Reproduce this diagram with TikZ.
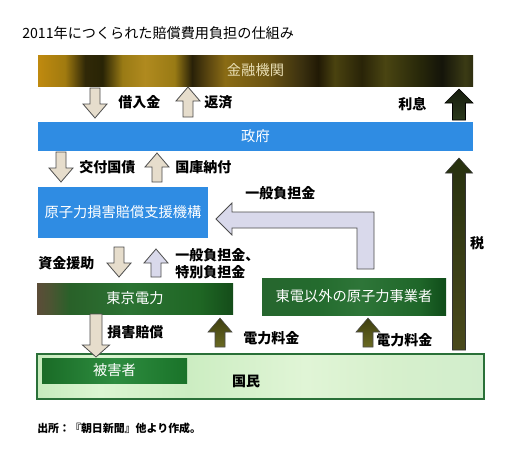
\documentclass[tikz,border=0pt]{standalone}
\usepackage{fontspec}
\setmainfont{Noto Sans CJK JP}
\pgfdeclarehorizontalshading{finance}{100bp}{rgb(0bp)=(0.75,0.54,0.06); rgb(25bp)=(0.75,0.54,0.06); rgb(28.1bp)=(0.63,0.48,0.06); rgb(30.4bp)=(0.19,0.16,0.03); rgb(32.4bp)=(0.16,0.14,0.02); rgb(34.7bp)=(0.60,0.48,0.08); rgb(37.3bp)=(0.69,0.54,0.12); rgb(40.7bp)=(0.60,0.48,0.08); rgb(42.7bp)=(0.16,0.13,0.03); rgb(44.5bp)=(0.35,0.27,0.06); rgb(46.5bp)=(0.54,0.42,0.08); rgb(51.4bp)=(0.42,0.33,0.07); rgb(55.3bp)=(0.23,0.19,0.06); rgb(57.2bp)=(0.13,0.10,0.02); rgb(59.1bp)=(0.29,0.26,0.06); rgb(62.2bp)=(0.16,0.14,0.03); rgb(64.9bp)=(0.29,0.27,0.07); rgb(68.7bp)=(0.16,0.16,0.04); rgb(71.4bp)=(0.08,0.08,0.04); rgb(74.1bp)=(0.23,0.23,0.08); rgb(75bp)=(0.18,0.18,0.06); rgb(100bp)=(0.18,0.18,0.06)}
\pgfdeclarehorizontalshading{tepco}{100bp}{rgb(0bp)=(0.36,0.30,0.22); rgb(25bp)=(0.36,0.30,0.22); rgb(28.3bp)=(0.30,0.33,0.20); rgb(33.4bp)=(0.16,0.38,0.16); rgb(48.7bp)=(0.17,0.45,0.20); rgb(66.6bp)=(0.12,0.40,0.14); rgb(75bp)=(0.08,0.30,0.10); rgb(100bp)=(0.08,0.30,0.10)}
\pgfdeclarehorizontalshading{others}{100bp}{rgb(0bp)=(0.15,0.40,0.18); rgb(25bp)=(0.15,0.40,0.18); rgb(40bp)=(0.14,0.42,0.18); rgb(52bp)=(0.18,0.46,0.22); rgb(68bp)=(0.12,0.40,0.16); rgb(75bp)=(0.06,0.30,0.10); rgb(100bp)=(0.06,0.30,0.10)}
\pgfdeclarehorizontalshading{victim}{100bp}{rgb(0bp)=(0.10,0.42,0.15); rgb(25bp)=(0.10,0.42,0.15); rgb(50bp)=(0.18,0.55,0.25); rgb(75bp)=(0.10,0.45,0.16); rgb(100bp)=(0.10,0.45,0.16)}
\pgfdeclarehorizontalshading{nation}{100bp}{rgb(0bp)=(0.78,0.92,0.74); rgb(25bp)=(0.78,0.92,0.74); rgb(32bp)=(0.86,0.96,0.82); rgb(42bp)=(0.80,0.93,0.76); rgb(55bp)=(0.88,0.96,0.84); rgb(65bp)=(0.84,0.94,0.80); rgb(75bp)=(0.82,0.93,0.80); rgb(100bp)=(0.82,0.93,0.80)}
\definecolor{govblue}{HTML}{2F8CE3}
\definecolor{arrbeige}{HTML}{E6DDCC}
\definecolor{arrlav}{HTML}{D9D9EB}
\definecolor{nationedge}{HTML}{2A7038}
\definecolor{darktop}{HTML}{161C0E}
\definecolor{darkbot}{HTML}{2C3A1C}
\definecolor{taxtop}{HTML}{27310F}
\definecolor{taxbot}{HTML}{4A4A1C}
\definecolor{olivetop}{HTML}{3E3E10}
\definecolor{olivebot}{HTML}{6A6A22}
\newcommand\uparr[7]{\path[#1] ({#2-#5},{#4}) -- ({#2-#5},{#3+#7}) -- ({#2-#6},{#3+#7}) -- ({#2},{#3}) -- ({#2+#6},{#3+#7}) -- ({#2+#5},{#3+#7}) -- ({#2+#5},{#4}) -- cycle;}
\newcommand\dnarr[7]{\path[#1] ({#2-#5},{#4}) -- ({#2-#5},{#3-#7}) -- ({#2-#6},{#3-#7}) -- ({#2},{#3}) -- ({#2+#6},{#3-#7}) -- ({#2+#5},{#3-#7}) -- ({#2+#5},{#4}) -- cycle;}
\tikzset{
  box/.style={inner sep=0pt, text=white, font=\fontsize{10.7}{12}\selectfont},
  lbl/.style={inner sep=0pt, anchor=west, font=\fontsize{10.5}{12}\selectfont\bfseries},
  beigearr/.style={fill=arrbeige, draw=black!70, line width=0.6pt},
  lavarr/.style={fill=arrlav, draw=black!70, line width=0.6pt},
  darkarr/.style={top color=darktop, bottom color=darkbot, draw=black, line width=0.4pt},
  taxarr/.style={top color=taxtop, bottom color=taxbot, draw=black!80, line width=0.4pt},
  olivearr/.style={top color=olivetop, bottom color=olivebot, draw=black!70, line width=0.4pt}
}
\begin{document}
\begin{tikzpicture}[x=0.75pt,y=-0.75pt]
\useasboundingbox (0,0) rectangle (527,461);
\fill[white] (0,0) rectangle (527,461);
% title
\node (title) [inner sep=0pt, anchor=west, font=\fontsize{10.6}{12}\selectfont] at (22,33) {2011年につくられた賠償費用負担の仕組み};
% boxes
\node (fin) [box, shade, shading=finance, minimum width=326.25pt, minimum height=23.25pt, text={rgb,255:red,232;green,222;blue,180}] at (255.5,70.5) {金融機関};
\node (gov) [box, fill=govblue, minimum width=326.25pt, minimum height=21.75pt] at (255.5,136.5) {政府};
\node (ndf) [box, fill=govblue, minimum width=127.5pt, minimum height=38.25pt] at (123,212.5) {原子力損害賠償支援機構};
\node (tepco) [box, shade, shading=tepco, minimum width=147pt, minimum height=23.25pt] at (135,298.5) {東京電力};
\node (oth) [box, shade, shading=others, minimum width=138pt, minimum height=27.75pt] at (354,296.5) {東電以外の原子力事業者};
\node (nat) [shade, shading=nation, draw=nationedge, line width=1.1pt, minimum width=335.25pt, minimum height=33.75pt, inner sep=0pt] at (260.5,376.5) {};
\node (natl) [inner sep=0pt, font=\fontsize{10.5}{12}\selectfont\bfseries] at (246,381) {国民};
\node (vic) [box, shade, shading=victim, minimum width=108.75pt, minimum height=18.75pt] at (114.5,370.5) {被害者};
% arrows row 1
\dnarr{beigearr}{95}{118}{88}{5}{12}{14}
\uparr{beigearr}{188}{87}{117}{5}{12}{14}
\uparr{darkarr}{459}{89}{120}{6.5}{14}{14}
\node (l1) [lbl] at (118,102) {借入金};
\node (l2) [lbl] at (204,102) {返済};
\node (l3) [lbl] at (398,104) {利息};
% arrows row 2
\dnarr{beigearr}{61}{182}{152}{5}{12}{14}
\uparr{beigearr}{157}{153}{182}{5}{12}{14}
\node (l4) [lbl] at (79,167) {交付国債};
\node (l5) [lbl] at (175,167) {国庫納付};
% tax arrow
\uparr{taxarr}{459}{158}{350}{6.5}{13.5}{15}
\node (l6) [inner sep=0pt, font=\fontsize{10.5}{12}\selectfont\bfseries] at (477,243) {税};
% L arrow
\path[lavarr] (357,269) -- (357,228) -- (232,228) -- (232,235) -- (216,219) -- (232,203) -- (232,212) -- (374,212) -- (374,269) -- cycle;
\node (l7) [lbl] at (245,193) {一般負担金};
% row 3
\dnarr{beigearr}{119}{277}{247}{5}{12}{14}
\uparr{lavarr}{156}{249}{277}{5}{12}{14}
\node (l8) [lbl] at (38,263) {資金援助};
\node (l9) [lbl] at (175,255) {一般負担金、};
\node (l10) [lbl] at (175,272) {特別負担金};
% row 4
\dnarr{beigearr}{96}{357}{314}{6}{13.5}{12}
\node (l11) [lbl] at (107,332) {損害賠償};
\uparr{olivearr}{220}{318}{347}{5}{12}{14}
\uparr{olivearr}{368}{318}{347}{5}{12}{14}
\node (l12) [lbl] at (243,338) {電力料金};
\node (l13) [lbl] at (376,340) {電力料金};
% footnote
\node (src) [inner sep=0pt, anchor=west, font=\fontsize{8.2}{10}\selectfont\bfseries] at (37,428) {出所：『朝日新聞』他より作成。};
\end{tikzpicture}
\end{document}
